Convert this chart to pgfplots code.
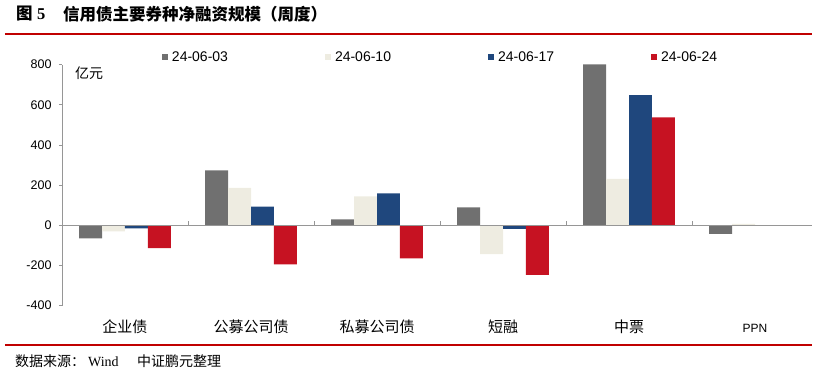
\documentclass[border=0pt]{standalone}
\usepackage{pgfplots}
\pgfplotsset{compat=1.18}
\usepackage{fontspec}
\setmainfont{Liberation Sans}
\newfontfamily\cjk{Noto Sans CJK SC}
\newfontfamily\serif{Liberation Serif}
\definecolor{cgray}{RGB}{112,112,112}
\definecolor{cbeige}{RGB}{238,236,225}
\definecolor{cblue}{RGB}{31,71,125}
\definecolor{cred}{RGB}{198,18,34}
\definecolor{lred}{RGB}{192,0,0}
\definecolor{axgray}{RGB}{150,150,150}
\begin{document}
\begin{tikzpicture}
\begin{axis}[
  name=ax,
  scale only axis, width=756pt, height=241pt,
  xmin=-0.5, xmax=5.5, ymin=-400, ymax=800,
  ytick={-400,-200,0,200,400,600,800},
  axis y line*=left, axis x line*=bottom,
  x axis line style={draw=none},
  y axis line style={axgray, line width=0.8pt},
  xtick={0,1,2,3,4,5}, xtick style={draw=none},
  ytick style={axgray, line width=0.8pt},
  tick align=outside, major tick length=3pt,
  xticklabels={{\cjk 企业债},{\cjk 公募公司债},{\cjk 私募公司债},{\cjk 短融},{\cjk 中票},{\fontsize{12}{12}\selectfont PPN}},
  xticklabel style={anchor=base, yshift=-24pt, font=\fontsize{15}{15}\selectfont},
  yticklabel style={font=\fontsize{12.5}{12.5}\selectfont, xshift=-4pt},
  /pgf/number format/assume math mode=true,
  ybar=0pt, bar width=0.1825,
  legend columns=4,
  legend style={draw=none, fill=none, at={(rel axis cs:0.128,1.032)}, anchor=west,
    font=\fontsize{14}{14}\selectfont,
    /tikz/every odd column/.append style={column sep=2pt},
    /tikz/every even column/.append style={column sep=95pt}},
  legend image code/.code={\fill[#1] (0pt,-3pt) rectangle (6pt,3pt);},
]
\addplot[fill=cgray, draw=none, bar shift=-0.27375] coordinates {(0,-65) (1,274) (2,30) (3,90) (4,802) (5,-42)};
\addplot[fill=cbeige, draw=none, bar shift=-0.09125] coordinates {(0,-30) (1,187) (2,144) (3,-143) (4,232) (5,8)};
\addplot[fill=cblue, draw=none, bar shift=0.09125] coordinates {(0,-15) (1,93) (2,159) (3,-17) (4,649) (5,0)};
\addplot[fill=cred, draw=none, bar shift=0.27375] coordinates {(0,-113) (1,-194) (2,-164) (3,-247) (4,538) (5,0)};
\legend{24-06-03,24-06-10,24-06-17,24-06-24}
\draw[axgray, line width=0.8pt] (axis cs:-0.5,0) -- (axis cs:5.45,0);
\pgfplotsinvokeforeach{0.5,1.5,2.5,3.5,4.5}{\draw[axgray, line width=0.8pt] (axis cs:#1,0) -- ++(0pt,4pt);}
\node[anchor=west, inner sep=0, font=\fontsize{14}{14}\selectfont] at (rel axis cs:0.017,0.9656) {\cjk 亿元};
\end{axis}
\begin{scope}[shift={(ax.south west)}, shift={(-62pt,-68.3pt)}]
\node[anchor=west,inner sep=0,font=\fontsize{16.5}{16.5}\selectfont\cjk\bfseries] at (16pt,360pt) {图};
\node[anchor=west,inner sep=0,font=\fontsize{16.5}{16.5}\selectfont\serif\bfseries] at (37pt,360pt) {5};
\node[anchor=west,inner sep=0,font=\fontsize{16.5}{16.5}\selectfont\cjk\bfseries] at (63pt,360pt) {信用债主要券种净融资规模（周度）};
\draw[lred,line width=2pt] (5pt,340pt) -- (812pt,340pt);
\draw[lred,line width=2pt] (5pt,28.5pt) -- (812pt,28.5pt);
\node[anchor=west,inner sep=0,font=\fontsize{14}{14}\selectfont\cjk] at (15pt,12.5pt) {数据来源：};
\node[anchor=west,inner sep=0,font=\fontsize{14}{14}\selectfont\serif] at (88pt,12.5pt) {Wind};
\node[anchor=west,inner sep=0,font=\fontsize{14}{14}\selectfont\cjk] at (137pt,12.5pt) {中证鹏元整理};
\pgfresetboundingbox
\path[use as bounding box] (0pt,0pt) rectangle (817pt,374pt);
\end{scope}
\end{tikzpicture}
\end{document}
